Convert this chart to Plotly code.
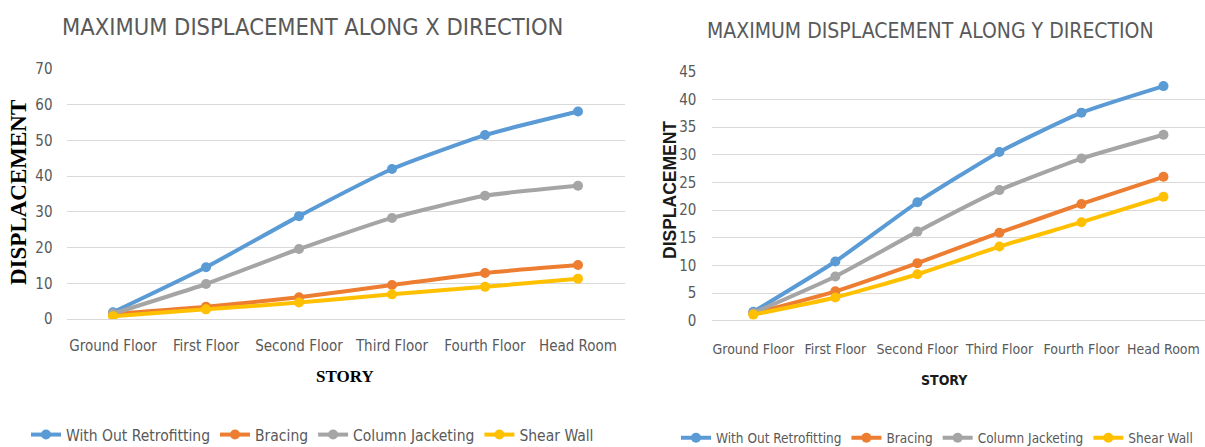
import plotly.graph_objects as go

stories = ["Ground Floor", "First Floor", "Second Floor", "Third Floor", "Fourth Floor", "Head Room"]
series_names = ["With Out Retrofitting", "Bracing", "Column Jacketing", "Shear Wall"]
colors = ["#5B9BD5", "#ED7D31", "#A5A5A5", "#FFC000"]

# Maximum displacement along X direction
x_without = [1.9, 14.5, 28.8, 42.0, 51.5, 58.1]
x_bracing = [1.4, 3.4, 6.1, 9.5, 12.9, 15.1]
x_column = [1.5, 9.8, 19.6, 28.3, 34.5, 37.3]
x_shear = [0.8, 2.7, 4.6, 6.9, 9.0, 11.3]

# Maximum displacement along Y direction
y_without = [1.6, 10.7, 21.4, 30.5, 37.6, 42.4]
y_bracing = [1.3, 5.3, 10.4, 15.9, 21.1, 26.0]
y_column = [1.4, 8.0, 16.1, 23.6, 29.3, 33.6]
y_shear = [1.1, 4.2, 8.4, 13.4, 17.8, 22.4]

x_data = [x_without, x_bracing, x_column, x_shear]
y_data = [y_without, y_bracing, y_column, y_shear]

W, H = 1205, 447
NARROW = "Liberation Sans Narrow, DejaVu Sans Condensed, Arial Narrow, sans-serif"
GRAY = "#595959"
GRID = "#D9D9D9"

fig = go.Figure()

for name, vals, col in zip(series_names, x_data, colors):
    fig.add_trace(go.Scatter(
        x=stories, y=vals, name=name, mode="lines+markers",
        line=dict(color=col, width=4, shape="spline", smoothing=0.5),
        marker=dict(color=col, size=10, symbol="circle"),
        xaxis="x", yaxis="y", legend="legend"))

for name, vals, col in zip(series_names, y_data, colors):
    fig.add_trace(go.Scatter(
        x=stories, y=vals, name=name, mode="lines+markers",
        line=dict(color=col, width=4, shape="spline", smoothing=0.5),
        marker=dict(color=col, size=10, symbol="circle"),
        xaxis="x2", yaxis="y2", legend="legend2"))

def px_x(p):
    return p / W

def px_y(p):
    return 1 - p / H

tickfont = dict(family=NARROW, size=15, color=GRAY)
tickfont2 = dict(family=NARROW, size=14, color=GRAY)
cat_range = [-0.5, len(stories) - 0.5]

fig.update_layout(
    width=W, height=H,
    margin=dict(l=0, r=0, t=0, b=0, autoexpand=False),
    paper_bgcolor="white", plot_bgcolor="white",
    xaxis=dict(domain=[px_x(66.5), px_x(624.5)], type="category", range=cat_range,
               showgrid=False, showline=False, zeroline=False, ticks="",
               tickfont=tickfont, ticklabelstandoff=16, anchor="y", automargin=False),
    yaxis=dict(domain=[px_y(319), px_y(69)], range=[0, 70], dtick=10,
               showgrid=True, gridcolor=GRID, gridwidth=1,
               zeroline=True, zerolinecolor=GRID, zerolinewidth=1,
               showline=False, ticks="", tickfont=tickfont,
               ticklabelstandoff=13, anchor="x", automargin=False),
    xaxis2=dict(domain=[px_x(712.3), px_x(1204.5)], type="category", range=cat_range,
                showgrid=False, showline=False, zeroline=False, ticks="",
                tickfont=tickfont2, ticklabelstandoff=18, anchor="y2", automargin=False),
    yaxis2=dict(domain=[px_y(320.7), px_y(71.7)], range=[0, 45], dtick=5,
                showgrid=True, gridcolor=GRID, gridwidth=1,
                zeroline=True, zerolinecolor=GRID, zerolinewidth=1,
                showline=False, ticks="", tickfont=tickfont,
                ticklabelstandoff=15, anchor="x2", automargin=False),
    legend=dict(orientation="h", x=px_x(26), y=px_y(435), xanchor="left", yanchor="middle",
                font=dict(family=NARROW, size=15.5, color=GRAY), itemwidth=30,
                tracegroupgap=0, bgcolor="rgba(0,0,0,0)"),
    legend2=dict(orientation="h", x=px_x(676), y=px_y(438), xanchor="left", yanchor="middle",
                 font=dict(family=NARROW, size=13.5, color=GRAY), itemwidth=30,
                 tracegroupgap=0, bgcolor="rgba(0,0,0,0)"),
    showlegend=True,
)

annotations = [
    dict(text="MAXIMUM DISPLACEMENT ALONG X DIRECTION", x=px_x(60), y=px_y(27),
         xanchor="left", yanchor="middle", showarrow=False,
         font=dict(family=NARROW, size=23.5, color=GRAY)),
    dict(text="MAXIMUM DISPLACEMENT ALONG Y DIRECTION", x=px_x(705), y=px_y(31),
         xanchor="left", yanchor="middle", showarrow=False,
         font=dict(family=NARROW, size=21, color=GRAY)),
    dict(text="<b>DISPLACEMENT</b>", x=px_x(18), y=px_y(193), textangle=-90,
         xanchor="center", yanchor="middle", showarrow=False,
         font=dict(family="Liberation Serif, Times New Roman, serif", size=23, color="black")),
    dict(text="<b>DISPLACEMENT</b>", x=px_x(670), y=px_y(190), textangle=-90,
         xanchor="center", yanchor="middle", showarrow=False,
         font=dict(family="Liberation Sans, Arial, sans-serif", size=17.5, color="#1a1a1a")),
    dict(text="<b>STORY</b>", x=px_x(345), y=px_y(376),
         xanchor="center", yanchor="middle", showarrow=False,
         font=dict(family="Liberation Serif, Times New Roman, serif", size=17, color="black")),
    dict(text="<b>STORY</b>", x=px_x(944), y=px_y(380),
         xanchor="center", yanchor="middle", showarrow=False,
         font=dict(family=NARROW, size=14, color="#1a1a1a")),
]
for a in annotations:
    a["xref"] = "paper"
    a["yref"] = "paper"
fig.update_layout(annotations=annotations)

fig.write_html("out.html")
